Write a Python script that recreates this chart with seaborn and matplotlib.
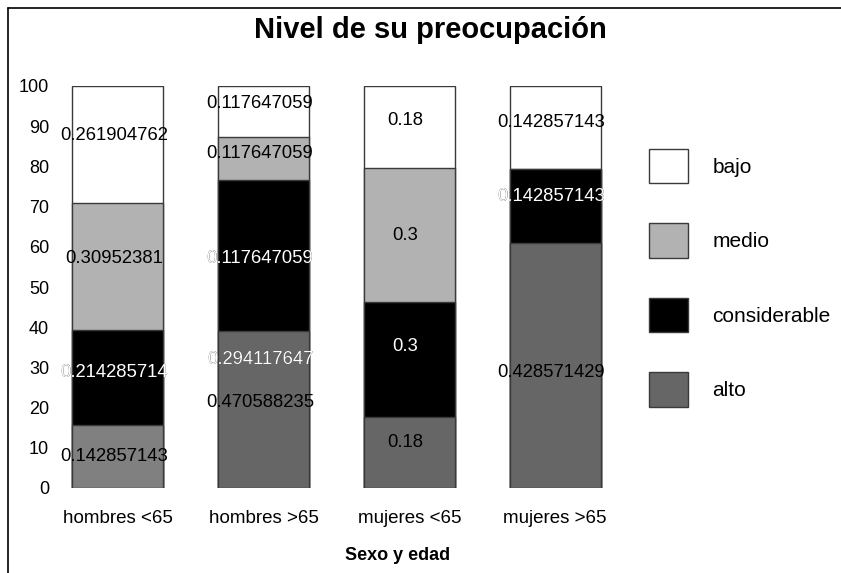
import numpy as np
import matplotlib
matplotlib.use('Agg')
import matplotlib.pyplot as plt
import seaborn as sns
from matplotlib.patches import Patch, Rectangle
from matplotlib.lines import Line2D

# data (segment heights, percent)
categories = ['hombres <65', 'hombres >65', 'mujeres <65', 'mujeres >65']
levels = ['bajo', 'medio', 'considerable', 'alto']
bajo = [29.0, 12.6, 20.3, 20.6]
medio = [31.7, 10.8, 33.5, 0.0]
considerable = [23.6, 37.5, 28.5, 18.4]
alto = [15.7, 39.1, 17.7, 61.0]

# printed labels: (category index, text, y, white text)
label_cat = [0, 0, 0, 0, 1, 1, 1, 1, 1, 2, 2, 2, 2, 3, 3, 3]
label_text = ['0.261904762', '0.30952381', '0.214285714', '0.142857143',
              '0.117647059', '0.117647059', '0.117647059', '0.294117647', '0.470588235',
              '0.18', '0.3', '0.3', '0.18',
              '0.142857143', '0.142857143', '0.428571429']
label_y = [87.8, 57.1, 28.7, 7.8,
           95.7, 83.1, 57.1, 32.0, 21.2,
           91.5, 62.9, 35.1, 11.3,
           90.9, 72.6, 28.7]
label_white = [False, False, True, False,
               False, False, True, True, False,
               False, False, True, False,
               False, True, False]

level_colors = {'bajo': '#ffffff', 'medio': '#b2b2b2',
                'considerable': '#000000', 'alto': '#666666'}
alto_bar_colors = ['#808080', '#666666', '#666666', '#666666']

sns.set_style('white')
plt.rcParams['font.family'] = ['Liberation Sans', 'DejaVu Sans']
plt.rcParams.update({'text.color': 'black', 'axes.labelcolor': 'black',
                     'xtick.color': 'black', 'ytick.color': 'black'})

fig = plt.figure(figsize=(8.41, 5.73), dpi=100)
ax = fig.add_axes([45 / 841, 85 / 573, 580 / 841, 402 / 573])

# stack via cumulative totals, tallest drawn first
cum_alto = np.array(alto)
cum_cons = cum_alto + np.array(considerable)
cum_medio = cum_cons + np.array(medio)
cum_bajo = cum_medio + np.array(bajo)

bar_w = 0.625
edge = dict(edgecolor='#3a3a3a', linewidth=1.0, width=bar_w)
sns.barplot(x=categories, y=cum_bajo, color=level_colors['bajo'], ax=ax, **edge)
sns.barplot(x=categories, y=cum_medio, color=level_colors['medio'], ax=ax, **edge)
sns.barplot(x=categories, y=cum_cons, color=level_colors['considerable'], ax=ax, **edge)
sns.barplot(x=categories, y=cum_alto, hue=categories, palette=alto_bar_colors,
            legend=False, ax=ax, **edge)

ax.set_xlim(-0.5, 3.48)
ax.set_ylim(0, 100)
ax.set_yticks(np.arange(0, 101, 10))
for s in ax.spines.values():
    s.set_visible(False)
ax.tick_params(axis='y', length=0, pad=-3, labelsize=13)
ax.tick_params(axis='x', length=0, pad=16, labelsize=13.5)
ax.set_xlabel('Sexo y edad', fontsize=13, fontweight='bold')
ax.xaxis.set_label_coords((398 - 45) / 580, -(554 - 487) / 402)
ax.xaxis.label.set_va('center')
ax.set_ylabel('')

for c, t, y, w in zip(label_cat, label_text, label_y, label_white):
    ax.text(c - 0.025, y, t, ha='center', va='center', fontsize=13.3, color='black', zorder=5)
    if w:
        clip = Rectangle((c - bar_w / 2, 0), bar_w, 100, transform=ax.transData,
                         facecolor='none', edgecolor='none')
        ax.add_patch(clip)
        txt = ax.text(c - 0.025, y, t, ha='center', va='center', fontsize=13.3,
                      color='white', zorder=6)
        txt.set_clip_path(clip)

handles = [Patch(facecolor=level_colors[l], edgecolor='#3a3a3a', linewidth=1.0) for l in levels]
fig.legend(handles, levels, loc='upper left', bbox_to_anchor=(649 / 841, 1 - 149 / 573),
           frameon=False, fontsize=15, handlelength=1.85, handleheight=2.15,
           labelspacing=1.93, handletextpad=1.2, borderpad=0, borderaxespad=0)

fig.text(430 / 841, 1 - 30 / 573, 'Nivel de su preocupación', ha='center', va='center',
         fontsize=21, fontweight='bold')

# outer frame (only top and left edges visible)
fig.add_artist(Line2D([8 / 841, 1], [1 - 8 / 573] * 2, color='black', lw=1.2,
                      transform=fig.transFigure))
fig.add_artist(Line2D([8 / 841] * 2, [0, 1 - 8 / 573], color='black', lw=1.2,
                      transform=fig.transFigure))

fig.savefig('out.png', dpi=100)
